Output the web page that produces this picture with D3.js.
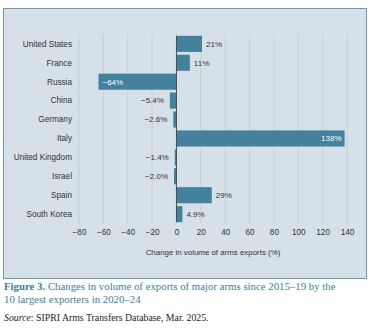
<!DOCTYPE html>
<html>
<head>
<meta charset="utf-8">
<script src="https://cdn.jsdelivr.net/npm/d3@7"></script>
<style>
	body { margin: 0; background: #fff; }
	svg { display: block; }
</style>
</head>
<body>
<div id="chart"></div>
<script>
//chart data
var countries = ['United States', 'France', 'Russia', 'China', 'Germany', 'Italy', 'United Kingdom', 'Israel', 'Spain', 'South Korea'];
var changes = [21, 11, -64, -5.4, -2.6, 138, -1.4, -2.0, 29, 4.9];
var valueLabels = ['21%', '11%', '\u221264%', '\u22125.4%', '\u22122.6%', '138%', '\u22121.4%', '\u22122.0%', '29%', '4.9%'];
var xTicks = [-80, -60, -40, -20, 0, 20, 40, 60, 80, 100, 120, 140];

var width = 385, height = 330;
var barColor = '#43819c';
var teal = '#3a7f98';

var svg = d3.select('#chart').append('svg')
	.attr('width', width)
	.attr('height', height);

//panel background
svg.append('rect')
	.attr('x', 3.5)
	.attr('y', 8.5)
	.attr('width', 363)
	.attr('height', 270)
	.style('fill', '#d6e0e8')
	.style('stroke', '#6f98a8')
	.style('stroke-width', 1);

var data = countries.map(function(c, i) { return { name: c, value: changes[i], label: valueLabels[i] }; });

//scales
var xScale = d3.scaleLinear()
	.domain([-80, 140])
	.range([79, 347]);

var yScale = d3.scaleBand()
	.domain(countries)
	.range([33, 225])
	.paddingInner(0.15)
	.paddingOuter(0.15);

//gridlines
svg.append('g')
	.attr('class', 'grid')
	.selectAll('line')
	.data(xTicks)
	.enter().append('line')
	.attr('x1', function(d) { return xScale(d); })
	.attr('x2', function(d) { return xScale(d); })
	.attr('y1', 34)
	.attr('y2', 224)
	.style('stroke', '#c3ccd4')
	.style('stroke-width', 0.8);

//bars
svg.append('g')
	.selectAll('rect')
	.data(data)
	.enter().append('rect')
	.attr('x', function(d) { return xScale(Math.min(0, d.value)); })
	.attr('y', function(d) { return yScale(d.name); })
	.attr('width', function(d) { return Math.abs(xScale(d.value) - xScale(0)); })
	.attr('height', yScale.bandwidth())
	.style('fill', barColor);

//zero line
svg.append('line')
	.attr('x1', xScale(0))
	.attr('x2', xScale(0))
	.attr('y1', yScale(countries[0]))
	.attr('y2', yScale(countries[countries.length - 1]) + yScale.bandwidth())
	.style('stroke', '#333')
	.style('stroke-width', 0.8);

//value labels, big bars get labels inside
svg.append('g')
	.selectAll('text')
	.data(data)
	.enter().append('text')
	.attr('y', function(d) { return yScale(d.name) + yScale.bandwidth() / 2; })
	.attr('dy', '0.35em')
	.attr('x', function(d) {
		if (d.value > 100) return xScale(d.value) - 3;
		if (d.value < -50) return xScale(d.value) + 4;
		if (d.value < 0) return xScale(d.value) - 6;
		return xScale(d.value) + 4;
	})
	.attr('text-anchor', function(d) {
		if (d.value > 100) return 'end';
		if (d.value < -50) return 'start';
		if (d.value < 0) return 'end';
		return 'start';
	})
	.style('fill', function(d) { return Math.abs(d.value) > 50 ? '#fff' : '#333'; })
	.style('font-family', 'Liberation Sans, Arial, sans-serif')
	.style('font-size', '8px')
	.text(function(d) { return d.label; });

//category axis labels
svg.append('g')
	.selectAll('text')
	.data(countries)
	.enter().append('text')
	.attr('x', 72)
	.attr('y', function(d) { return yScale(d) + yScale.bandwidth() / 2; })
	.attr('dy', '0.35em')
	.attr('text-anchor', 'end')
	.style('fill', '#333')
	.style('font-family', 'Liberation Sans, Arial, sans-serif')
	.style('font-size', '8.2px')
	.text(function(d) { return d; });

//x axis
var xAxis = d3.axisBottom(xScale)
	.tickValues(xTicks)
	.tickSize(0)
	.tickPadding(0)
	.tickFormat(function(d) { return d < 0 ? '\u2212' + Math.abs(d) : d; });

var axisG = svg.append('g')
	.attr('class', 'x axis')
	.attr('transform', 'translate(0,229)')
	.call(xAxis);
axisG.select('.domain').remove();
axisG.selectAll('text')
	.style('fill', '#333')
	.style('font-family', 'Liberation Sans, Arial, sans-serif')
	.style('font-size', '8.2px');

svg.append('text')
	.attr('x', xScale(30))
	.attr('y', 255)
	.attr('text-anchor', 'middle')
	.style('fill', '#333')
	.style('font-family', 'Liberation Sans, Arial, sans-serif')
	.style('font-size', '7.9px')
	.text('Change in volume of arms exports (%)');

//caption
var cap = svg.append('text')
	.attr('x', 4)
	.attr('y', 290)
	.style('fill', teal)
	.style('font-family', 'Liberation Serif, Times New Roman, serif')
	.style('font-size', '10.8px');
cap.append('tspan').style('font-weight', 'bold').text('Figure 3.');
cap.append('tspan').text(' Changes in volume of exports of major arms since 2015\u201319 by the');

svg.append('text')
	.attr('x', 4)
	.attr('y', 303)
	.style('fill', teal)
	.style('font-family', 'Liberation Serif, Times New Roman, serif')
	.style('font-size', '10.8px')
	.text('10 largest exporters in 2020\u201324');

var src = svg.append('text')
	.attr('x', 4)
	.attr('y', 321)
	.style('fill', '#222')
	.style('font-family', 'Liberation Serif, Times New Roman, serif')
	.style('font-size', '9.8px');
src.append('tspan').style('font-style', 'italic').text('Source');
src.append('tspan').text(': SIPRI Arms Transfers Database, Mar. 2025.');
</script>
</body>
</html>
